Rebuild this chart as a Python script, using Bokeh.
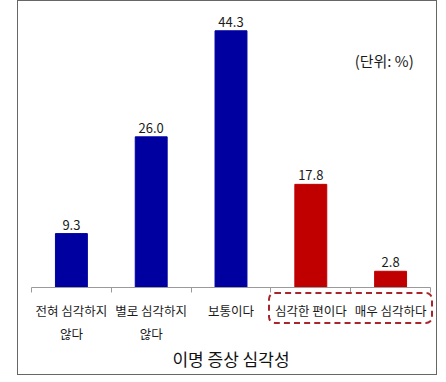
from bokeh.plotting import figure
from bokeh.models import (ColumnDataSource, LinearAxis, FixedTicker, Range1d,
                          Label, LabelSet, InlineStyleSheet)
from bokeh.core.properties import value
from bokeh.embed import file_html
from bokeh.resources import INLINE

# ---- data ----
categories = ["전혀 심각하지 않다", "별로 심각하지 않다", "보통이다", "심각한 편이다", "매우 심각하다"]
label_line1 = ["전혀 심각하지", "별로 심각하지", "보통이다", "심각한 편이다", "매우 심각하다"]
label_line2 = ["않다", "않다", "", "", ""]
values = [9.3, 26.0, 44.3, 17.8, 2.8]
bar_colors = ["#0000A0", "#0000A0", "#0000A0", "#C00000", "#C00000"]
axis_title = "이명 증상 심각성"
unit_note = "(단위: %)"

KR = "Noto Sans CJK KR"

xs = list(range(len(categories)))
src = ColumnDataSource(dict(x=xs, top=values, color=bar_colors,
                            txt=[f"{v:.1f}" for v in values]))

p = figure(width=440, height=378, output_backend="svg", toolbar_location=None,
           x_axis_type=None, y_axis_type=None,
           x_range=Range1d(-0.5, len(categories) - 0.5), y_range=Range1d(0, 47.8),
           min_border_left=31, min_border_right=10, min_border_top=10, min_border_bottom=91)
p.outline_line_color = None
p.grid.visible = False

p.vbar(x="x", top="top", width=0.4, color="color", source=src)

p.add_layout(LabelSet(x="x", y="top", text="txt", source=src, text_align="center",
                      text_baseline="bottom", y_offset=4, text_font=value(KR),
                      text_font_size="13px", text_color="#1a1a1a"))

# main category axis (first line of labels) with boundary ticks
ax1 = LinearAxis(ticker=FixedTicker(ticks=xs, minor_ticks=[i - 0.5 for i in range(len(xs) + 1)]))
ax1.major_label_overrides = {i: t for i, t in zip(xs, label_line1)}
ax1.axis_line_color = "#9a9a9a"
ax1.major_tick_line_color = None
ax1.major_tick_out = 0
ax1.major_tick_in = 0
ax1.minor_tick_line_color = "#9a9a9a"
ax1.minor_tick_out = 5
ax1.minor_tick_in = 0
ax1.major_label_standoff = 8
ax1.major_label_text_font = KR
ax1.major_label_text_font_size = "12.5px"
ax1.major_label_text_color = "#1a1a1a"
p.add_layout(ax1, "below")

# second line of labels + axis title
ax2 = LinearAxis(ticker=FixedTicker(ticks=xs, minor_ticks=[]))
ax2.major_label_overrides = {i: (t if t else " ") for i, t in zip(xs, label_line2)}
ax2.axis_line_color = None
ax2.major_tick_line_color = None
ax2.major_tick_out = 0
ax2.major_tick_in = 0
ax2.minor_tick_line_color = None
ax2.major_label_standoff = 1
ax2.major_label_text_font = KR
ax2.major_label_text_font_size = "12.5px"
ax2.major_label_text_color = "#1a1a1a"
ax2.axis_label = axis_title
ax2.axis_label_standoff = 0
ax2.axis_label_text_font = KR
ax2.axis_label_text_font_size = "17px"
ax2.axis_label_text_font_style = "normal"
ax2.axis_label_text_color = "#111111"
p.add_layout(ax2, "below")

# unit note
p.add_layout(Label(x=3.92, y=39.1, text=unit_note, text_align="center",
                   text_baseline="middle", text_font=KR, text_font_size="15px",
                   text_color="#1a1a1a"))

# outer frame border and dashed rounded highlight (drawn outside the plot frame)
p.stylesheets = [InlineStyleSheet(css="""
:host { position: relative; }
:host::before {
  content: ""; position: absolute; left: 17px; top: 0px; width: 420px; height: 375px;
  border: 1px solid #666666; box-sizing: border-box; pointer-events: none; z-index: 10;
}
:host::after {
  content: ""; position: absolute; left: 268px; top: 292px; width: 165px; height: 32px;
  border: 2px dashed #A8262B; border-radius: 7px; box-sizing: border-box;
  pointer-events: none; z-index: 10;
}
""")]

open("out.html", "w").write(file_html(p, INLINE))
